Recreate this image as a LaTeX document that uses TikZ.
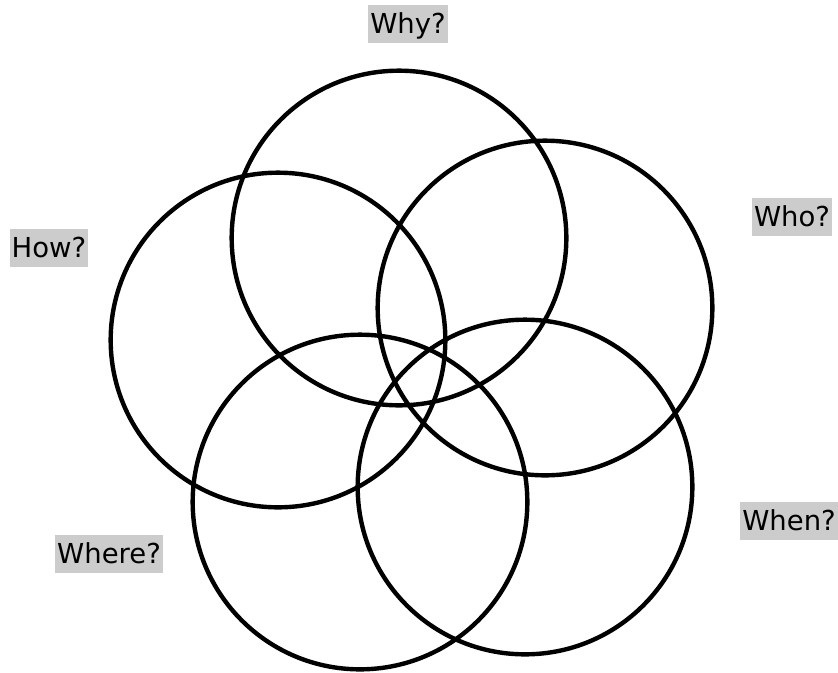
\documentclass[tikz,border=0pt]{standalone}
\usepackage{fontspec}
\setmainfont{DejaVu Sans}
\usepackage{tikz}

\tikzset{
  ring/.style={circle, draw, line width=3.3pt, minimum size=251pt, inner sep=0pt},
  tag/.style={fill=black!20, inner sep=0pt, inner xsep=1.5pt,
    text height=21.4pt, text depth=7.6pt,
    font=\fontsize{20.6pt}{24pt}\selectfont}
}

\begin{document}
\begin{tikzpicture}[x=0.75pt, y=-0.75pt]
  \useasboundingbox (0,0) rectangle (838,672);

  %% The five overlapping circles
  \foreach \x/\y/\name in {399/238/why, 545/308/who, 525/487/when,
                           360/502/where, 278/340/how}{
    \node[ring] (\name) at (\x,\y) {};
  }

  %% Question labels
  \node[tag] (whylabel)   at (408,24)  {Why?};
  \node[tag] (wholabel)   at (792,217) {Who?};
  \node[tag] (howlabel)   at (49,248)  {How?};
  \node[tag] (whenlabel)  at (789,521) {When?};
  \node[tag] (wherelabel) at (109,554) {Where?};

\end{tikzpicture}
\end{document}
